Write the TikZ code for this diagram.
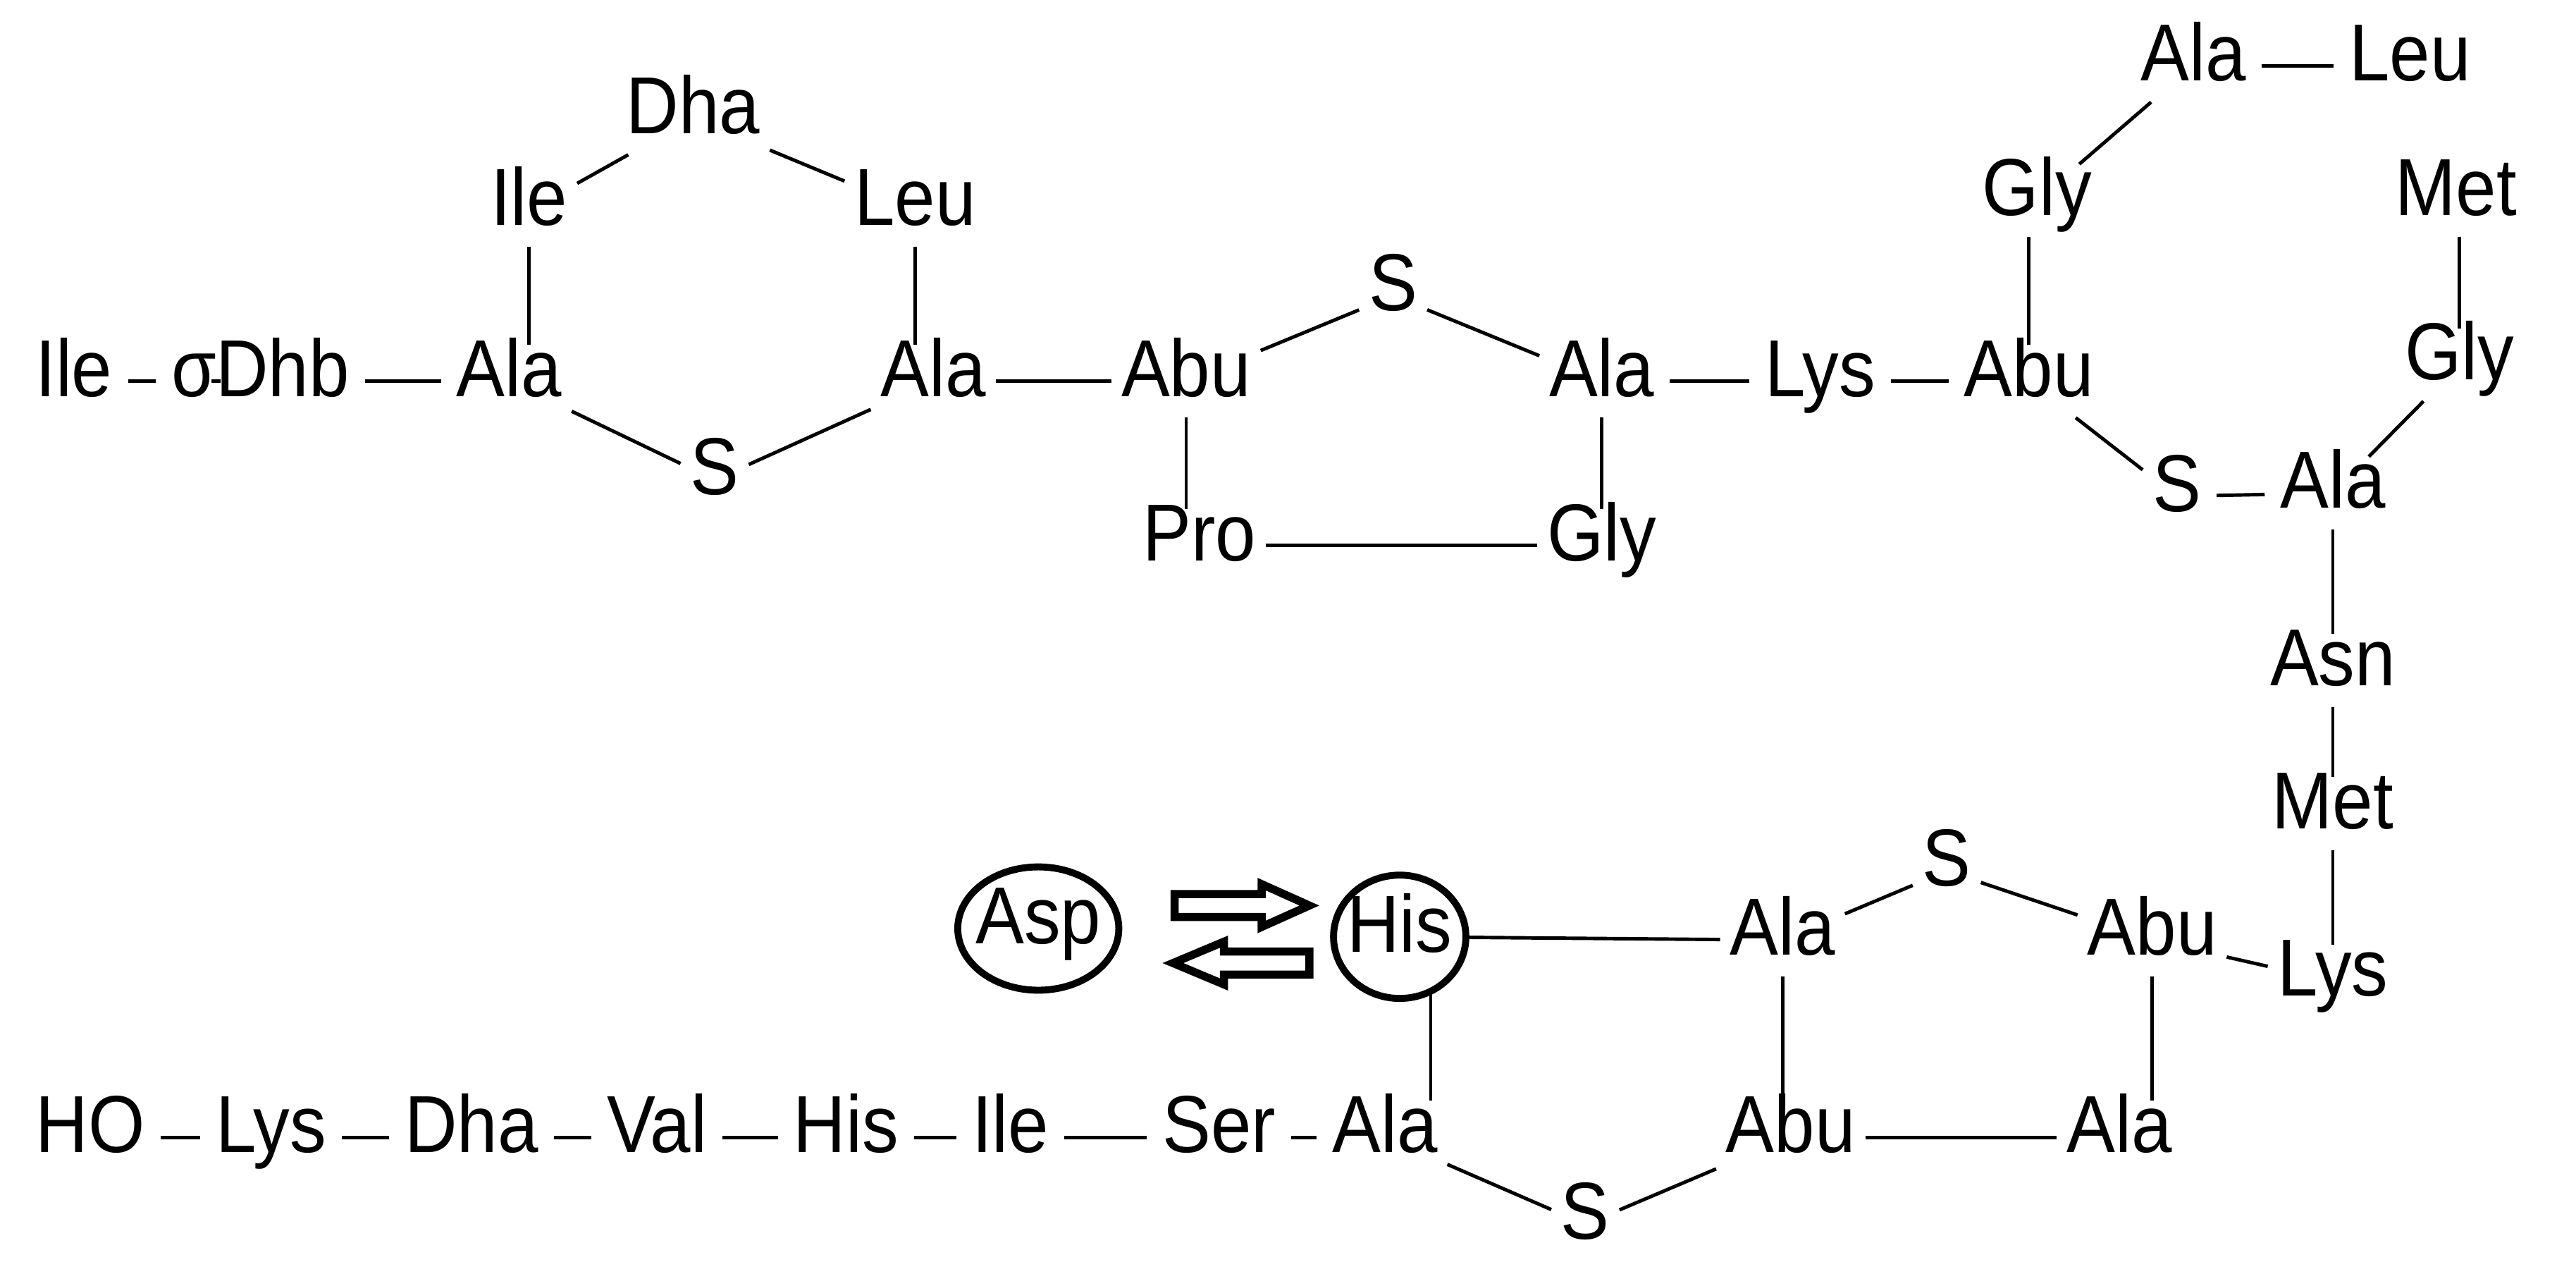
\documentclass[tikz,border=0pt]{standalone}
\usepackage{fontspec}
\setmainfont{Liberation Sans}[FakeStretch=0.9]
\usetikzlibrary{shapes.geometric}
\begin{document}
\begin{tikzpicture}[x=0.01cm,y=-0.01cm,
  aa/.style={font=\fontsize{14}{16}\selectfont, inner sep=1.5pt, text height=0.72em, text depth=0.2em},
  bond/.style={line width=0.6pt},
  dsh/.style={line width=0.6pt, shorten <=1pt, shorten >=1pt},
  ring/.style={draw, ellipse, line width=1.2pt, inner sep=-1pt, minimum height=0.75cm},
  blk/.style={line width=1.4pt, line join=miter}]
\useasboundingbox (0,0) rectangle (1568,775);
\path[every node/.style={aa}]
 (45,232) node (Ile) {Ile}
 (118,232) node (sig) {σ}
 (172,232) node (Dhb) {Dhb}
 (310,232) node (Ala1) {Ala}
 (322,128) node (Ile2) {Ile}
 (422,72) node (Dha) {Dha}
 (557,128) node (Leu) {Leu}
 (568,232) node (Ala2) {Ala}
 (435,292) node (S1) {S}
 (722,232) node (Abu1) {Abu}
 (848,180) node (S2) {S}
 (975,232) node (Ala3) {Ala}
 (730,332) node (Pro) {Pro}
 (975,332) node (Gly1) {Gly}
 (1108,232) node (Lys1) {Lys}
 (1235,232) node (Abu2) {Abu}
 (1240,122) node (Gly2) {Gly}
 (1335,40) node (Ala4) {Ala}
 (1467,40) node (Leu2) {Leu}
 (1495,122) node (Met1) {Met}
 (1497,222) node (Gly3) {Gly}
 (1325,302) node (S3) {S}
 (1420,300) node (Ala5) {Ala}
 (1420,408) node (Asn) {Asn}
 (1420,495) node (Met2) {Met}
 (1420,597) node (Lys2) {Lys}
 (1310,572) node (Abu3) {Abu}
 (1185,530) node (S4) {S}
 (1085,572) node (Ala6) {Ala}
 (852,570) node[ring] (His) {His}
 (632,565) node[ring] (Asp) {Asp}
 (1290,692) node (Ala7) {Ala}
 (1090,692) node (Abu4) {Abu}
 (965,745) node (S5) {S}
 (843,692) node (Ala8) {Ala}
 (742,692) node (Ser) {Ser}
 (615,692) node (Ile3) {Ile}
 (515,692) node (His2) {His}
 (400,692) node (Val) {Val}
 (287,692) node (Dha2) {Dha}
 (165,692) node (Lys3) {Lys}
 (55,692) node (HO) {HO};
\draw[dsh] (Ile) -- (sig);
\draw[dsh] (sig) -- (Dhb);
\draw[dsh] (Dhb) -- (Ala1);
\draw[dsh] (Ala3) -- (Lys1);
\draw[dsh] (Lys1) -- (Abu2);
\draw[dsh] (Ala4) -- (Leu2);
\draw[dsh] (S3) -- (Ala5);
\draw[dsh] (Ala8) -- (Ser);
\draw[dsh] (Ser) -- (Ile3);
\draw[dsh] (Ile3) -- (His2);
\draw[dsh] (His2) -- (Val);
\draw[dsh] (Val) -- (Dha2);
\draw[dsh] (Dha2) -- (Lys3);
\draw[dsh] (Lys3) -- (HO);
\draw[bond] (Ile2) -- (Ile2 |- Ala1.north);
\draw[bond] (Ile2) -- (Dha);
\draw[bond] (Dha) -- (Leu);
\draw[bond] (Leu) -- (Leu |- Ala2.north);
\draw[bond] (Ala1) -- (S1);
\draw[bond] (S1) -- (Ala2);
\draw[bond] (Ala2) -- (Abu1);
\draw[bond] (Abu1) -- (S2);
\draw[bond] (S2) -- (Ala3);
\draw[bond] (Abu1.south) -- (Abu1.south |- Pro.north);
\draw[bond] (Pro) -- (Gly1);
\draw[bond] (Ala3) -- (Ala3 |- Gly1.north);
\draw[bond] (Abu2) -- (Abu2 |- Gly2.south);
\draw[bond] (Gly2) -- (Ala4);
\draw[bond] (Abu2) -- (S3);
\draw[bond] (Ala5) -- (Gly3);
\draw[bond] (Gly3) -- (Gly3 |- Met1.south);
\draw[bond] (Ala5) -- (Asn);
\draw[bond] (Asn) -- (Met2);
\draw[bond] (Met2) -- (Met2 |- Lys2.north);
\draw[bond] (Lys2) -- (Abu3);
\draw[bond] (Abu3) -- (S4);
\draw[bond] (S4) -- (Ala6);
\draw[bond] (Ala6) -- (His);
\draw[bond] (His.-62) -- (His.-62 |- Ala8.north);
\draw[bond] (Ala6) -- (Ala6 |- Abu4.north);
\draw[bond] (Abu3) -- (Abu3 |- Ala7.north);
\draw[bond] (Abu4) -- (Ala7);
\draw[bond] (Ala8) -- (S5);
\draw[bond] (S5) -- (Abu4);
% equilibrium block arrows
\draw[blk] (715,544) -- (768,544) -- (768,538) -- (797,551) -- (768,564) -- (768,558) -- (715,558) -- cycle;
\draw[blk] (797,579) -- (745,579) -- (745,573) -- (714,586) -- (745,599) -- (745,593) -- (797,593) -- cycle;
\end{tikzpicture}
\end{document}
